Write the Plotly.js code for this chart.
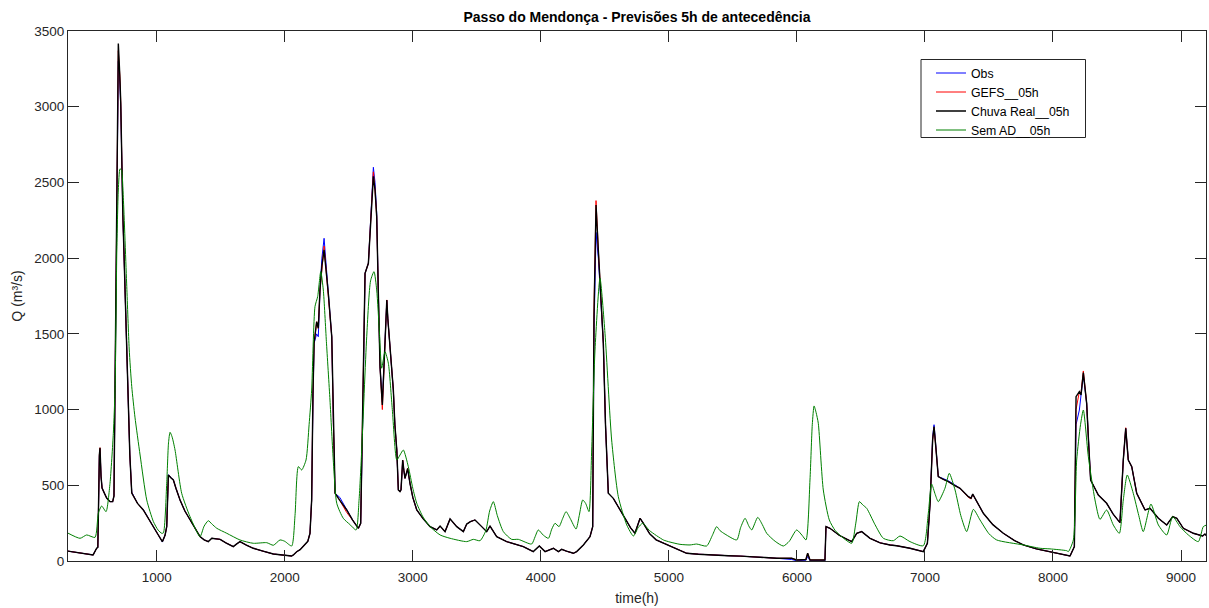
<!DOCTYPE html>
<html>
<head>
<meta charset="utf-8">
<script src="https://cdn.plot.ly/plotly-3.0.1.min.js"></script>
<style>html,body{margin:0;padding:0;background:#fff;}#chart{width:1209px;height:608px;}</style>
</head>
<body>
<div id="chart"></div>
<script>
// Hours for the observed / forecast series
const hours = [300,400,503,531,540,552,557,565,573,590,609,635,656,666,675,688,700,712,719,735,753,770,790,805,850,895,940,973,1010,1044,1065,1078,1091,1110,1130,1150,1182,1220,1260,1300,1338,1370,1403,1430,1460,1495,1540,1598,1620,1650,1700,1754,1830,1911,2000,2054,2067,2093,2120,2158,2180,2197,2210,2220,2229,2249,2262,2275,2290,2307,2325,2340,2367,2380,2393,2430,2484,2530,2575,2593,2608,2627,2653,2666,2680,2692,2705,2718,2730,2744,2762,2778,2790,2797,2805,2817,2848,2860,2875,2887,2900,2908,2921,2930,2939,2950,2960,2978,3000,3031,3080,3135,3187,3213,3252,3291,3343,3395,3421,3450,3486,3538,3577,3603,3655,3733,3800,3863,3941,3988,4033,4098,4137,4163,4200,4254,4280,4332,4384,4405,4415,4431,4449,4470,4488,4505,4520,4527,4566,4632,4700,4735,4755,4775,4800,4850,4900,4996,5087,5139,5230,5321,5380,5464,5560,5659,5750,5842,5959,5998,6050,6070,6084,6095,6102,6219,6227,6258,6330,6400,6428,6467,6506,6571,6650,6727,6779,6883,6987,7019,7040,7060,7071,7085,7104,7140,7182,7230,7274,7339,7360,7373,7400,7456,7530,7612,7700,7768,7870,7977,8060,8133,8167,8180,8206,8219,8237,8263,8280,8294,8354,8419,8470,8523,8549,8568,8588,8615,8654,8719,8758,8823,8888,8935,8967,9018,9096,9169,9187,9200];

const chuvaReal = [66,55,40,84,90,700,748,560,482,450,416,392,392,430,1200,2600,3417,3200,3025,2300,1746,1300,700,449,380,337,270,227,175,128,170,227,568,550,535,480,403,330,271,215,161,140,128,150,145,143,120,95,110,128,105,84,65,46,38,33,40,61,75,106,130,183,403,1100,1438,1580,1537,1790,1950,2054,1900,1768,1481,900,447,400,337,270,216,249,900,1900,1966,2164,2400,2540,2450,2274,1800,1283,1030,1393,1690,1724,1600,1481,1129,900,733,469,458,470,667,600,546,580,612,513,420,337,280,227,205,231,194,278,227,194,244,260,271,227,194,231,161,128,110,95,62,99,62,84,62,77,65,51,62,106,161,227,1613,2351,2054,1700,1438,900,480,447,414,315,220,183,240,282,250,180,140,106,73,51,45,40,38,35,32,29,23,18,18,7,7,10,51,15,7,7,227,216,170,140,128,183,194,150,120,106,101,84,62,117,381,800,887,750,557,540,524,500,480,425,415,442,400,315,240,183,135,106,80,62,50,33,95,1085,1118,1096,1244,1041,750,535,436,381,310,253,667,876,667,623,447,337,348,282,238,293,282,216,183,165,178,165];

const obs = [66,55,40,84,90,690,740,560,482,450,416,392,392,430,1150,2500,3300,3150,3000,2300,1760,1300,700,455,380,340,270,227,175,125,170,227,570,550,535,480,403,330,271,215,161,140,128,150,145,143,120,95,110,128,105,84,65,46,38,33,40,61,75,106,130,183,403,1050,1438,1500,1481,1790,2000,2131,1950,1790,1481,900,447,420,337,270,216,249,900,1900,1966,2200,2450,2600,2500,2300,1800,1283,1050,1393,1690,1720,1600,1481,1129,900,733,469,458,470,660,600,546,580,600,513,420,337,280,227,205,231,194,278,227,194,244,260,271,227,194,231,161,128,110,95,62,99,62,84,62,77,65,51,62,106,161,227,1500,2170,2000,1700,1438,900,480,447,414,315,220,183,240,282,250,180,140,106,73,51,45,40,38,35,32,29,23,18,10,2,2,5,30,5,2,2,227,216,170,140,128,183,194,150,120,106,101,84,62,117,381,820,900,760,557,545,530,505,480,425,415,440,400,315,240,183,135,106,80,62,50,33,95,900,997,1080,1230,1041,750,535,436,381,310,253,667,876,667,623,447,337,348,282,238,293,282,216,183,165,178,165];

const gefs = [66,55,40,84,90,700,748,560,482,450,416,392,392,430,1180,2550,3370,3200,3025,2300,1746,1300,700,449,380,337,270,227,175,128,170,227,568,550,535,480,403,330,271,215,161,140,128,150,145,143,120,95,110,128,105,84,65,46,38,33,40,61,75,106,130,183,403,1100,1438,1580,1537,1790,1950,2080,1900,1768,1481,900,447,400,320,270,216,249,900,1900,1966,2164,2400,2570,2450,2274,1800,1283,1000,1393,1690,1724,1600,1481,1129,900,733,469,458,470,667,600,546,580,612,513,420,337,280,227,205,231,194,278,227,194,244,260,271,227,194,231,161,128,110,95,62,99,62,84,62,77,65,51,62,106,161,227,1650,2380,2054,1700,1438,900,480,447,414,315,220,183,240,282,250,180,140,106,73,51,45,40,38,35,32,29,23,18,18,7,7,10,51,15,7,7,227,216,170,140,128,183,194,150,120,106,101,84,62,117,381,800,880,750,557,540,524,500,480,420,410,440,400,315,240,183,135,106,80,62,50,33,95,1000,1118,1110,1255,1041,750,535,436,381,310,253,667,880,667,623,447,337,348,282,238,293,282,216,183,165,178,165];

// Hours and values for the simulation without data assimilation
const hoursSemAD = [300,401,453,518,544,570,604,635,661,675,688,700,713,725,739,766,785,805,830,870,922,974,1010,1039,1052,1078,1092,1104,1120,1143,1195,1260,1338,1370,1403,1430,1469,1547,1650,1754,1859,1911,1963,2000,2054,2080,2106,2132,2166,2190,2210,2236,2257,2281,2301,2325,2353,2380,2406,2457,2510,2557,2580,2601,2640,2670,2697,2718,2740,2757,2783,2809,2840,2875,2900,2926,2965,3000,3031,3080,3135,3213,3291,3421,3473,3525,3570,3600,3629,3660,3707,3772,3824,3928,3955,3980,4020,4059,4085,4111,4142,4170,4197,4230,4275,4300,4327,4350,4376,4397,4423,4462,4501,4553,4605,4671,4723,4760,4795,4850,4957,5009,5087,5165,5217,5295,5340,5373,5400,5438,5530,5560,5595,5625,5647,5694,5730,5764,5830,5894,5940,5998,6040,6071,6102,6120,6134,6150,6167,6206,6253,6300,6380,6428,6460,6488,6515,6545,6610,6675,6753,6805,6883,6987,7026,7052,7080,7104,7156,7190,7235,7280,7326,7378,7430,7500,7560,7768,7899,7977,8107,8120,8159,8185,8215,8237,8276,8328,8367,8419,8471,8518,8549,8580,8627,8670,8705,8765,8823,8888,8935,8992,9057,9135,9174,9200];

const semAD = [187,150,172,156,315,363,326,513,843,1151,2034,2450,2590,2580,2400,1812,1400,1151,950,700,403,260,205,183,185,513,780,850,820,733,447,293,161,230,266,245,216,183,139,117,121,104,139,130,99,300,623,601,667,900,1129,1680,1746,1911,1790,1450,1063,650,381,282,240,205,400,733,1481,1850,1911,1790,1500,1273,1382,1306,1000,667,700,733,623,480,381,290,227,172,150,128,143,134,200,330,392,300,194,143,143,112,160,205,170,150,210,249,227,280,326,280,211,300,403,380,326,733,1393,1867,1504,799,425,238,165,220,249,200,139,125,110,106,112,99,170,227,200,178,139,220,282,230,205,288,240,183,130,99,130,205,170,139,535,900,1024,980,909,469,271,200,140,117,250,392,370,348,240,150,134,165,128,101,315,508,440,392,480,579,469,300,194,341,271,180,139,106,84,80,68,62,139,667,900,997,689,403,275,337,238,183,403,568,447,300,194,376,238,172,293,227,172,128,227,238];

const seriesNames = ['Obs', 'GEFS__05h', 'Chuva Real__05h', 'Sem AD__05h'];
const xTicks = [1000,2000,3000,4000,5000,6000,7000,8000,9000];
const yTicks = [0,500,1000,1500,2000,2500,3000,3500];

const axisColor = '#262626';
const fontFam = '"Liberation Sans", Arial, Helvetica, sans-serif';

const traces = [
  {x: hours, y: obs, name: seriesNames[0], mode: 'lines', line: {color: '#0000ff', width: 1}},
  {x: hours, y: gefs, name: seriesNames[1], mode: 'lines', line: {color: '#ff0000', width: 1}},
  {x: hours, y: chuvaReal, name: seriesNames[2], mode: 'lines', line: {color: '#000000', width: 1.4}},
  {x: hoursSemAD, y: semAD, name: seriesNames[3], mode: 'lines', line: {color: '#008000', width: 1, shape: 'spline', smoothing: 0.6}}
];

const L = 68, R = 1206, T = 31, B = 561;
const pw = R - L, ph = B - T;
const px = v => (v - L) / pw;
const py = v => (B - v) / ph;

const layout = {
  width: 1209, height: 608,
  margin: {l: L, r: 1209 - R, t: T, b: 608 - B, pad: 0},
  paper_bgcolor: '#ffffff', plot_bgcolor: '#ffffff',
  font: {family: fontFam, color: axisColor, size: 13.5},
  title: {text: '<b>Passo do Mendonça - Previsões 5h de antecedência</b>', x: 0.5, xref: 'paper', xanchor: 'center', y: 1 - 17/608, yref: 'container', yanchor: 'middle', font: {size: 14, color: '#000000', family: fontFam}},
  showlegend: true,
  legend: {x: px(931), y: py(58.5), xanchor: 'left', yanchor: 'top', bgcolor: 'rgba(255,255,255,0)', borderwidth: 0, font: {size: 12.3, color: '#000000', family: fontFam}, tracegroupgap: 0, itemwidth: 30},
  xaxis: {
    range: [307, 9195], tickmode: 'array', tickvals: xTicks, ticktext: xTicks.map(String),
    ticks: 'inside', ticklen: 11, tickwidth: 1, tickcolor: axisColor,
    showline: true, linecolor: axisColor, linewidth: 1, mirror: 'ticks',
    showgrid: false, zeroline: false, ticklabelstandoff: 4,
    tickfont: {size: 13.5, color: axisColor},
    title: {text: 'time(h)', font: {size: 14, color: axisColor}, standoff: 8}
  },
  yaxis: {
    range: [0, 3500], tickmode: 'array', tickvals: yTicks, ticktext: yTicks.map(String),
    ticks: 'inside', ticklen: 11, tickwidth: 1, tickcolor: axisColor,
    showline: true, linecolor: axisColor, linewidth: 1, mirror: 'ticks',
    showgrid: false, zeroline: false,
    tickfont: {size: 13.5, color: axisColor},
    title: {text: 'Q (m³/s)', font: {size: 14, color: axisColor}, standoff: 8}
  },
  shapes: [
    {type: 'rect', xref: 'paper', yref: 'paper', x0: px(921), x1: px(1085.5), y0: py(137.5), y1: py(59.5), line: {color: axisColor, width: 1}, fillcolor: 'rgba(255,255,255,1)', layer: 'above'}
  ]
};
Plotly.newPlot('chart', traces, layout, {displayModeBar: false, staticPlot: true});
</script>
</body>
</html>
